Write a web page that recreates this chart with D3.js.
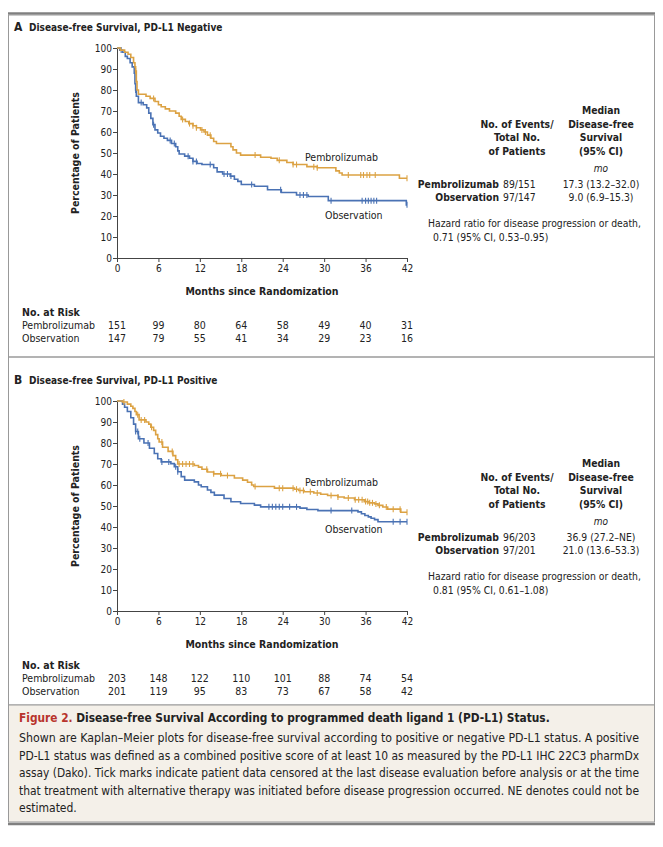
<!DOCTYPE html>
<html>
<head>
<meta charset="utf-8">
<script src="https://cdn.jsdelivr.net/npm/d3@7"></script>
<style>
  body { margin: 0; background: #fff; }
  svg text { font-family: "Liberation Sans Narrow", "DejaVu Sans Condensed", "Roboto Condensed", "Liberation Sans", sans-serif; fill: #222; }
  .tick text { font-size: 10px; }
  .bold { font-weight: bold; }
</style>
</head>
<body>
<script>
// ---- data ----
const monthTicks = [0, 6, 12, 18, 24, 30, 36, 42];
const pctTicks = [0, 10, 20, 30, 40, 50, 60, 70, 80, 90, 100];
const groups = ["Pembrolizumab", "Observation"];

// panel A: PD-L1 negative, [month, % after step]
const kmA_pembro = [[0,100],[0.5,99],[1.1,98],[1.6,97],[2.0,95.5],[2.4,93],[2.6,91],[2.7,89],[2.8,84],[2.9,80],[3.1,78],[4.2,77],[4.8,76],[5.5,74.5],[6.0,73],[6.4,72],[7.0,71],[7.6,70],[8.5,69],[9.0,67.5],[9.3,66],[9.9,65],[10.4,64],[11.0,63],[11.5,62],[12.1,61],[12.6,60],[13.1,58.5],[13.6,57],[14.0,55.5],[14.4,54.5],[16.5,53],[16.8,51.5],[17.3,50],[17.9,49],[20.8,48],[22.3,47.5],[23.2,46.5],[24.6,45.5],[25.5,44.5],[27.5,43.5],[29,43],[31.7,41.5],[32.2,40.5],[32.6,39.5],[40.9,38],[42,38]];
const kmA_obs = [[0,100],[0.4,99],[0.8,98],[1.2,96],[1.5,95],[1.9,93],[2.2,91],[2.5,88],[2.6,83],[2.7,80],[2.8,77],[3.1,74],[3.8,73],[4.3,71.5],[4.6,69],[4.9,66.5],[5.2,63.5],[5.5,61],[5.9,59.5],[6.3,58],[6.8,57],[7.3,56],[7.9,54.5],[8.5,53],[8.8,51],[9.0,49.5],[9.8,48.5],[10.5,47.5],[11.0,46],[11.6,45],[12.3,44.5],[14.0,43],[14.5,41],[15.3,40],[16.4,39],[17.0,37.5],[17.5,36.5],[18.0,35],[19.9,34.2],[21.8,32.5],[23.8,31.2],[26.0,30],[27.7,29.3],[30.6,27.3],[41.9,25.3],[42,25.3]];
const censA_pembro = [2.7,5.3,9.5,10.5,11,11.5,12.3,12.8,13.5,20,23.5,25.5,26,28.5,29,33.5,35.3,35.7,36.2,36.6,37.4,42];
const censA_obs = [0.6,2.7,3.5,5.3,7.7,8.3,10.3,11,11.5,13.5,15.5,16,16.5,19.5,23.7,26.5,27,27.5,31,35.5,36,36.4,36.8,37.2,37.6,42];
const riskA_pembro = [151, 99, 80, 64, 58, 49, 40, 31];
const riskA_obs = [147, 79, 55, 41, 34, 29, 23, 16];
const eventsA = ["89/151", "97/147"];
const medianA = ["17.3 (13.2–32.0)", "9.0 (6.9–15.3)"];
const hrA = ["Hazard ratio for disease progression or death,", "0.71 (95% CI, 0.53–0.95)"];

// panel B: PD-L1 positive
const kmB_pembro = [[0,100],[0.8,99.5],[1.5,98.5],[2.0,97.5],[2.3,96.5],[2.6,95],[2.8,93.5],[3.2,91],[4.2,90],[4.6,89],[4.9,87.5],[5.3,86],[5.6,84],[5.9,82],[6.1,80.5],[6.6,78],[7.4,76],[8.1,74],[8.5,72],[8.8,70],[11.2,69.3],[11.8,68.5],[12.3,67.5],[13.1,66.2],[14.0,65.3],[15.1,64.5],[17.0,63.3],[18.2,62.3],[18.9,61.3],[19.5,60],[19.8,59.3],[22.8,58.5],[25.7,58],[26.3,57.4],[27.1,56.8],[28.5,56.2],[29.5,55.6],[30.5,55],[32,54.3],[32.9,53.8],[34.4,53],[35.8,52.1],[36.5,51.5],[37.3,51],[37.8,50.3],[38.5,49.5],[39.2,48.5],[41.1,47],[42,47]];
const kmB_obs = [[0,100],[0.8,98.5],[1.1,97],[1.5,95],[2.0,92],[2.4,89],[2.7,85.5],[3.1,82],[3.9,80],[4.7,77.5],[5.4,75],[5.9,72.5],[6.4,71],[7.8,70.2],[8.3,68.7],[8.8,66.3],[9.3,64],[9.8,62.3],[11.2,61.5],[11.8,60],[12.2,59.2],[13.1,57.6],[13.6,56.5],[14.1,55.2],[15.5,53.6],[16.5,52],[17.9,51.2],[19.9,50.4],[20.8,49.6],[26.5,49],[27.5,48.3],[29.1,47.8],[34.9,47.2],[35.4,46.3],[35.9,45.5],[36.4,44.8],[36.8,44.2],[37.3,43.5],[37.8,42.5],[42,42.5]];
const censB_pembro = [1,3,3.5,4,5,6.5,8,9,9.5,10,10.5,11,13,14,15,16,20,23.5,24,25.5,26,26.5,27,28,29,31,32,33.5,34.5,35,35.5,36,36.3,36.6,37,37.5,38,39,40,41,42];
const censB_obs = [2.7,3,3.3,4.5,6.5,7.5,8.5,8.8,22,22.5,23,23.5,24,25,26,31,34,40,41,42];
const riskB_pembro = [203, 148, 122, 110, 101, 88, 74, 54];
const riskB_obs = [201, 119, 95, 83, 73, 67, 58, 42];
const eventsB = ["96/203", "97/201"];
const medianB = ["36.9 (27.2–NE)", "21.0 (13.6–53.3)"];
const hrB = ["Hazard ratio for disease progression or death,", "0.81 (95% CI, 0.61–1.08)"];

const captionTitle = ["Figure 2.", " Disease-free Survival According to programmed death ligand 1 (PD-L1) Status."];
const captionLines = [
  "Shown are Kaplan–Meier plots for disease-free survival according to positive or negative PD-L1 status. A positive",
  "PD-L1 status was defined as a combined positive score of at least 10 as measured by the PD-L1 IHC 22C3 pharmDx",
  "assay (Dako). Tick marks indicate patient data censored at the last disease evaluation before analysis or at the time",
  "that treatment with alternative therapy was initiated before disease progression occurred. NE denotes could not be",
  "estimated."
];

const colPembro = "#dca243";
const colObs = "#4a72b4";

const svg = d3.select("body").append("svg")
  .attr("width", 663).attr("height", 847);
svg.append("rect").attr("width", 663).attr("height", 847).attr("fill", "#fff");

// frames
svg.append("line").attr("x1", 8).attr("x2", 655).attr("y1", 13.5).attr("y2", 13.5)
  .attr("stroke", "#808080").attr("stroke-width", 2.5);
svg.append("rect").attr("x", 8.5).attr("y", 15).attr("width", 646).attr("height", 342)
  .attr("fill", "none").attr("stroke", "#999");
svg.append("rect").attr("x", 8.5).attr("y", 357).attr("width", 646).attr("height", 348)
  .attr("fill", "none").attr("stroke", "#999");
svg.append("rect").attr("x", 8.5).attr("y", 705).attr("width", 646).attr("height", 117)
  .attr("fill", "#f4f0e9").attr("stroke", "#999");
svg.append("line").attr("x1", 8).attr("x2", 655).attr("y1", 824).attr("y2", 824)
  .attr("stroke", "#808080").attr("stroke-width", 2.5);

function stepValue(km, t) {
  let v = km[0][1];
  for (const p of km) { if (p[0] <= t) v = p[1]; }
  return v;
}

function drawPanel(top, letter, title, kmP, kmO, censP, censO, riskP, riskO, events, median, hr, labelY) {
  const g = svg.append("g");
  const x = d3.scaleLinear().domain([0, 42]).range([117, 407]);
  const y = d3.scaleLinear().domain([0, 100]).range([top + 244, top + 34]);

  g.append("text").attr("x", 14).attr("y", top + 17).attr("class", "bold")
    .style("font-size", "12px").text(letter);
  g.append("text").attr("x", 29).attr("y", top + 17).attr("class", "bold")
    .style("font-size", "10px").text(title);

  const yAxis = g.append("g").attr("transform", `translate(${x(0)},0)`)
    .call(d3.axisLeft(y).tickValues(pctTicks).tickSize(4).tickSizeOuter(0));
  const xAxis = g.append("g").attr("transform", `translate(0,${y(0)})`)
    .call(d3.axisBottom(x).tickValues(monthTicks).tickSize(4).tickSizeOuter(0));
  [xAxis, yAxis].forEach(a => {
    a.select(".domain").attr("stroke", "#444");
    a.selectAll(".tick line").attr("stroke", "#444");
    a.selectAll(".tick text").style("font-size", "10px").attr("fill", "#222");
  });
  yAxis.selectAll(".tick text").attr("x", -5);

  g.append("text").attr("class", "bold").attr("text-anchor", "middle")
    .attr("transform", `translate(79,${(y(0) + y(100)) / 2}) rotate(-90)`)
    .style("font-size", "10.5px").text("Percentage of Patients");
  g.append("text").attr("class", "bold").attr("text-anchor", "middle")
    .attr("x", 262).attr("y", y(0) + 37).style("font-size", "10.5px")
    .text("Months since Randomization");

  const line = d3.line().x(d => x(d[0])).y(d => y(d[1])).curve(d3.curveStepAfter);
  [[kmO, censO, colObs], [kmP, censP, colPembro]].forEach(([km, cens, col]) => {
    g.append("path").datum(km).attr("d", line)
      .attr("fill", "none").attr("stroke", col).attr("stroke-width", 1.6);
    g.selectAll(null).data(cens).enter().append("line")
      .attr("x1", d => x(d)).attr("x2", d => x(d))
      .attr("y1", d => y(stepValue(km, d)) - 3).attr("y2", d => y(stepValue(km, d)) + 3)
      .attr("stroke", col).attr("stroke-width", 1.1);
  });

  g.append("text").attr("x", 305).attr("y", y(labelY[0]))
    .style("font-size", "10.5px").text(groups[0]);
  g.append("text").attr("x", 325).attr("y", y(labelY[1]))
    .style("font-size", "10.5px").text(groups[1]);

  // at-risk table
  g.append("text").attr("class", "bold").attr("x", 22).attr("y", top + 302)
    .style("font-size", "10.5px").text("No. at Risk");
  [riskP, riskO].forEach((row, i) => {
    const ry = top + 315 + i * 13;
    g.append("text").attr("x", 22).attr("y", ry).style("font-size", "10.5px").text(groups[i]);
    g.selectAll(null).data(row).enter().append("text")
      .attr("x", (d, j) => x(monthTicks[j])).attr("y", ry)
      .attr("text-anchor", "middle").style("font-size", "10.5px").text(d => d);
  });

  // legend table
  const lx1 = 517, lx2 = 601, ly = top + 100;
  const hdr = g.append("g").attr("class", "bold").style("font-size", "10.3px").attr("text-anchor", "middle");
  hdr.append("text").attr("x", lx2).attr("y", ly).text("Median");
  ["No. of Events/", "Total No.", "of Patients"].forEach((t, i) =>
    hdr.append("text").attr("x", lx1).attr("y", ly + 13.5 * (i + 1)).text(t));
  ["Disease-free", "Survival", "(95% CI)"].forEach((t, i) =>
    hdr.append("text").attr("x", lx2).attr("y", ly + 13.5 * (i + 1)).text(t));
  g.append("text").attr("x", lx2).attr("y", ly + 58).attr("text-anchor", "middle")
    .style("font-size", "10px").style("font-style", "italic").text("mo");
  groups.forEach((grp, i) => {
    const ry = ly + 74 + i * 13;
    g.append("text").attr("class", "bold").attr("x", 499).attr("y", ry)
      .attr("text-anchor", "end").style("font-size", "10.3px").text(grp);
    g.append("text").attr("x", 503).attr("y", ry).style("font-size", "10.3px").text(events[i]);
    g.append("text").attr("x", lx2).attr("y", ry).attr("text-anchor", "middle")
      .style("font-size", "10.3px").text(median[i]);
  });
  g.append("text").attr("x", 428).attr("y", ly + 113).style("font-size", "10.3px").text(hr[0]);
  g.append("text").attr("x", 433).attr("y", ly + 127).style("font-size", "10.3px").text(hr[1]);
}

drawPanel(14, "A", "Disease-free Survival, PD-L1 Negative",
  kmA_pembro, kmA_obs, censA_pembro, censA_obs, riskA_pembro, riskA_obs,
  eventsA, medianA, hrA, [46, 18.5]);
drawPanel(367, "B", "Disease-free Survival, PD-L1 Positive",
  kmB_pembro, kmB_obs, censB_pembro, censB_obs, riskB_pembro, riskB_obs,
  eventsB, medianB, hrB, [59.5, 37]);

// caption
const cap = svg.append("text").attr("x", 19).attr("y", 722).style("font-size", "11.8px").attr("class", "bold");
cap.append("tspan").attr("fill", "#b8342c").style("fill", "#b8342c").text(captionTitle[0]);
cap.append("tspan").text(captionTitle[1]);
captionLines.forEach((t, i) => {
  const tx = svg.append("text").attr("x", 19).attr("y", 742 + i * 17.5)
    .style("font-size", "12px").text(t);
  if (i < captionLines.length - 1) tx.attr("textLength", 620).attr("lengthAdjust", "spacingAndGlyphs");
});
</script>
</body>
</html>
